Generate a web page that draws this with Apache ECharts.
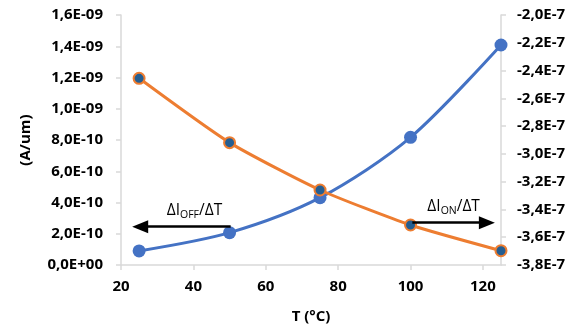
<!DOCTYPE html>
<html>
<head>
<meta charset="utf-8">
<script src="https://cdn.jsdelivr.net/npm/echarts@6/dist/echarts.min.js"></script>
<style>html,body{margin:0;padding:0;background:#fff}#c{width:579px;height:333px}</style>
</head>
<body>
<div id="c"></div>
<script>
// ---- data ----
const temps = [25, 50, 75, 100, 125];                       // T (°C)
const iOff  = [0.9e-10, 2.07e-10, 4.31e-10, 8.17e-10, 1.408e-9];   // left axis (A/um)
const iOn   = [-2.456e-7, -2.919e-7, -3.26e-7, -3.512e-7, -3.697e-7]; // right axis
// annotation arrows (data coordinates)
const offArrow = [[25.3, 2.45e-10], [50.3, 2.45e-10]];   // arrow head at the left end
const onArrow  = [[100.5, -3.495e-7], [121.1, -3.495e-7]]; // arrow head at the right end

const FONT = '"Open Sans", "Noto Sans", sans-serif';
function fmtLeft(v) {
  if (Math.abs(v) < 1e-15) return '0,0E+00';
  let e = Math.floor(Math.log10(Math.abs(v)) + 1e-9);
  let m = v / Math.pow(10, e);
  if (Math.abs(m) >= 9.95) { m /= 10; e += 1; }
  const es = (e < 0 ? '-' : '+') + String(Math.abs(e)).padStart(2, '0');
  return m.toFixed(1).replace('.', ',') + 'E' + es;
}
function fmtRight(v) {
  return (v / 1e-7).toFixed(1).replace('.', ',') + 'E-7';
}
const axisGray = '#D9D9D9';
const labelStyle = { color: '#000', fontFamily: FONT, fontWeight: 'bold', fontSize: 15 };
function rich(shift) {
  return {
    sp: { width: shift, height: 10 },
    main: { fontFamily: FONT, fontSize: 15.5, color: '#000', lineHeight: 20 },
    sub: { fontFamily: FONT, fontSize: 10.5, color: '#000', lineHeight: 10, verticalAlign: 'bottom' }
  };
}

const chart = echarts.init(document.getElementById('c'), null, { renderer: 'canvas' });
chart.setOption({
  animation: false,
  backgroundColor: '#fff',
  grid: { left: 121, right: 78, top: 15, bottom: 68, outerBoundsMode: 'none' },
  xAxis: {
    type: 'value', min: 20, max: 125, interval: 20,
    name: 'T (°C)', nameLocation: 'middle', nameGap: 44,
    nameTextStyle: Object.assign({}, labelStyle),
    axisLine: { show: true, lineStyle: { color: axisGray, width: 1.5 } },
    axisTick: { show: true, length: 5, lineStyle: { color: axisGray, width: 1.5 } },
    axisLabel: Object.assign({ margin: 14, showMaxLabel: false }, labelStyle),
    splitLine: { show: false }
  },
  yAxis: [{
    type: 'value', min: 0, max: 1.6e-9, interval: 2e-10, position: 'left',
    name: '(A/um)', nameLocation: 'middle', nameGap: 88,
    nameTextStyle: Object.assign({}, labelStyle),
    axisLine: { show: true, lineStyle: { color: axisGray, width: 1.5 } },
    axisTick: { show: true, length: 5, lineStyle: { color: axisGray, width: 1.5 } },
    axisLabel: Object.assign({ margin: 18, formatter: fmtLeft }, labelStyle),
    splitLine: { show: false }
  }, {
    type: 'value', min: -3.8e-7, max: -2.0e-7, interval: 2e-8, position: 'right',
    axisLine: { show: true, lineStyle: { color: axisGray, width: 1.5 } },
    axisTick: { show: true, length: 5, lineStyle: { color: axisGray, width: 1.5 } },
    axisLabel: Object.assign({ margin: 16, formatter: fmtRight }, labelStyle),
    splitLine: { show: false }
  }],
  series: [{
    type: 'line', yAxisIndex: 0, smooth: 0.3,
    data: temps.map((t, i) => [t, iOff[i]]),
    lineStyle: { color: '#4472C4', width: 3 },
    symbol: 'circle', symbolSize: 13,
    itemStyle: { color: '#4472C4', borderWidth: 0 },
    z: 2,
    markLine: {
      silent: true, animation: false,
      symbolSize: [13, 16],
      lineStyle: { color: '#000', width: 2.5, type: 'solid' },
      label: { show: true, position: 'middle', distance: 6,
               formatter: '{sp|}{main|ΔI}{sub|OFF}{main|/ΔT}', rich: rich(18) },
      data: [[{ coord: offArrow[0], symbol: 'triangle' }, { coord: offArrow[1], symbol: 'none' }]]
    }
  }, {
    type: 'line', yAxisIndex: 1, smooth: 0.2,
    data: temps.map((t, i) => [t, iOn[i]]),
    lineStyle: { color: '#ED7D31', width: 3 },
    symbol: 'circle', symbolSize: 11,
    itemStyle: { color: '#255E91', borderColor: '#ED7D31', borderWidth: 2 },
    z: 3,
    markLine: {
      silent: true, animation: false,
      symbolSize: [13, 16],
      lineStyle: { color: '#000', width: 2.5, type: 'solid' },
      label: { show: true, position: 'middle', distance: 6,
               formatter: '{sp|}{main|ΔI}{sub|ON}{main|/ΔT}', rich: rich(8) },
      data: [[{ coord: onArrow[0], symbol: 'none' }, { coord: onArrow[1], symbol: 'triangle' }]]
    }
  }]
});
</script>
</body>
</html>
